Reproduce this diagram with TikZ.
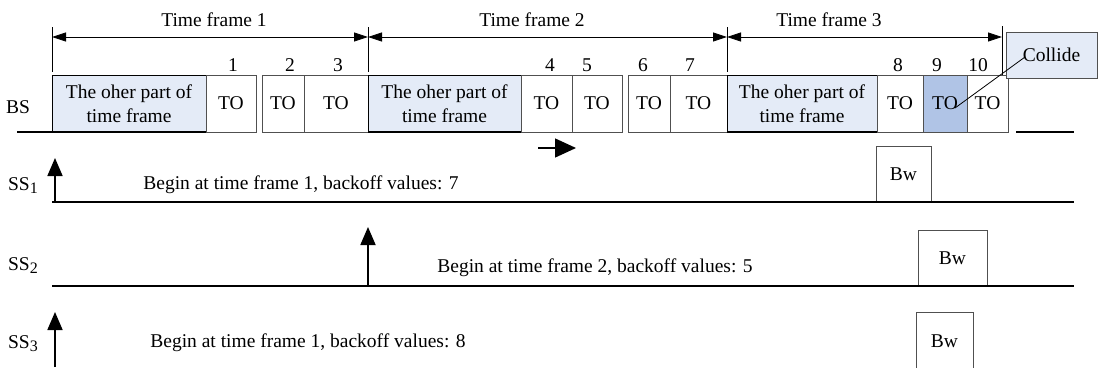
\documentclass[tikz,border=0pt]{standalone}
\usepackage{fontspec}
\setmainfont{Liberation Serif}
\usetikzlibrary{arrows.meta}
\definecolor{paleblue}{RGB}{228,235,247}
\definecolor{hitblue}{RGB}{176,196,230}
\definecolor{boxgray}{RGB}{80,80,80}
\newcommand{\sslabel}[1]{SS\raisebox{-3pt}{\fontsize{16}{16}\selectfont #1}}
\begin{document}
\begin{tikzpicture}[x=1pt,y=-1pt,
  every node/.style={font=\fontsize{19.5}{24}\selectfont, inner sep=0pt},
  bluebox/.style={draw=black, line width=0.9pt, fill=paleblue, minimum height=57pt, align=center},
  tobox/.style={draw=boxgray, line width=0.8pt, fill=white, minimum height=57pt},
  hitbox/.style={draw=boxgray, line width=0.8pt, fill=hitblue, minimum height=57pt},
  bwbox/.style={draw=boxgray, line width=0.9pt, fill=white},
  timeline/.style={line width=2.6pt},
  tickline/.style={line width=0.7pt},
  dimarrow/.style={line width=0.8pt, {Triangle[length=14pt,width=9pt]}-{Triangle[length=14pt,width=9pt]}},
  uparrow/.style={line width=1.8pt, -{Triangle[length=18pt,width=15pt]}},
]
\useasboundingbox (0,0) rectangle (1098,367);

% time frame ticks and arrows
\coordinate (k0) at (52,37);
\coordinate (k1) at (368,37);
\coordinate (k2) at (727,37);
\coordinate (k3) at (1002,37);
\draw[tickline] (52,27) -- (52,72);
\draw[tickline] (368,27) -- (368,72);
\draw[tickline] (727,27) -- (727,72);
\draw[tickline] (1002,26) -- (1002,75);
\draw[dimarrow] (k0) -- (k1);
\draw[dimarrow] (k1) -- (k2);
\draw[dimarrow] (k2) -- (k3);
\node (tf1) at (214,20) {Time frame 1};
\node (tf2) at (532,20) {Time frame 2};
\node (tf3) at (829,20) {Time frame 3};

% slot numbers
\node (n1) at (233,65) {1};
\node (n2) at (290,65) {2};
\node (n3) at (338,65) {3};
\node (n4) at (550,65) {4};
\node (n5) at (587,65) {5};
\node (n6) at (643,65) {6};
\node (n7) at (690,65) {7};
\node (n8) at (898,65) {8};
\node (n9) at (937,65) {9};
\node (n10) at (978,65) {10};

% BS row
\node (bs) at (18,107) {BS};
\node[bluebox, minimum width=154pt] (f1) at (129,103.5) {The oher part of\\time frame};
\node[tobox, minimum width=50pt] (to1) at (231,103.5) {TO};
\node[tobox, minimum width=42pt] (to2) at (283,103.5) {TO};
\node[tobox, minimum width=64pt] (to3) at (336,103.5) {TO};
\node[bluebox, minimum width=153pt] (f2) at (444.5,103.5) {The oher part of\\time frame};
\node[tobox, minimum width=51pt] (to4) at (546.5,103.5) {TO};
\node[tobox, minimum width=50pt] (to5) at (597,103.5) {TO};
\node[tobox, minimum width=42pt] (to6) at (649,103.5) {TO};
\node[tobox, minimum width=57pt] (to7) at (698.5,103.5) {TO};
\node[bluebox, minimum width=150pt] (f3) at (802,103.5) {The oher part of\\time frame};
\node[tobox, minimum width=46pt] (to8) at (900,103.5) {TO};
\node[hitbox, minimum width=44pt] (to9) at (945,103.5) {TO};
\node[tobox, minimum width=41pt] (to10) at (987.5,103.5) {TO};
\node[draw=boxgray, line width=0.8pt, fill=paleblue, minimum width=91pt, minimum height=46pt] (collide) at (1051.5,55) {Collide};
\coordinate (cstart) at (1025,57);
\coordinate (hit) at (955,108);
\draw[line width=0.8pt] (cstart) -- (hit);

\draw[timeline] (17,132) -- (206,132);
\draw[timeline] (368,132) -- (521,132);
\draw[timeline] (727,132) -- (877,132);
\draw[timeline] (1016,132) -- (1074,132);

% direction arrow
\coordinate (a1) at (538,148);
\coordinate (a2) at (576,148);
\draw[line width=1.4pt, -{Triangle[length=21pt,width=19pt]}] (a1) -- (a2);

% SS1
\node (ss1) at (23,186) {\sslabel{1}};
\node[bwbox, minimum width=55pt, minimum height=56pt] (bw1) at (903.5,174) {Bw};
\draw[timeline] (52,202) -- (1074,202);
\coordinate (u1a) at (55,202);
\coordinate (u1b) at (55,158);
\draw[uparrow] (u1a) -- (u1b);
\node (txt1) at (301,185) {Begin at time frame 1, backoff values: 7};

% SS2
\node (ss2) at (23,266) {\sslabel{2}};
\node[bwbox, minimum width=69pt, minimum height=56pt] (bw2) at (952.5,258) {Bw};
\draw[timeline] (52,286) -- (1074,286);
\coordinate (u2a) at (368,286);
\coordinate (u2b) at (368,227);
\draw[uparrow] (u2a) -- (u2b);
\node (txt2) at (595,268) {Begin at time frame 2, backoff values: 5};

% SS3
\node (ss3) at (23,344) {\sslabel{3}};
\node[bwbox, minimum width=57pt, minimum height=58pt] (bw3) at (944.5,341) {Bw};
\coordinate (u3a) at (55,367);
\coordinate (u3b) at (55,312);
\draw[uparrow] (u3a) -- (u3b);
\node (txt3) at (308,343) {Begin at time frame 1, backoff values: 8};
\end{tikzpicture}
\end{document}
